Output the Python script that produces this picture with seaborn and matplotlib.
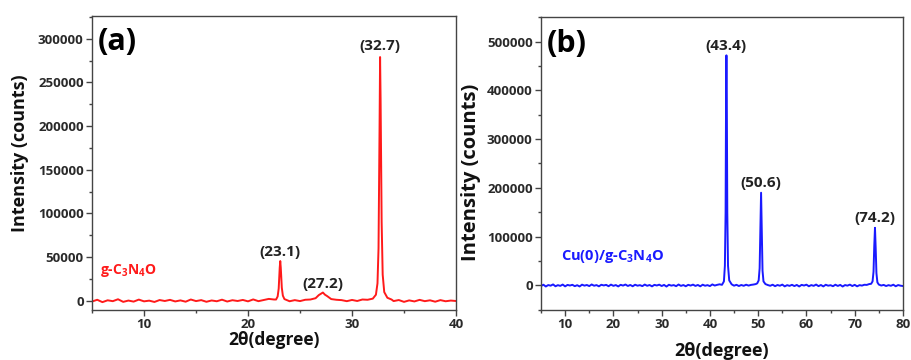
import matplotlib
matplotlib.use("Agg")
import matplotlib.pyplot as plt
from matplotlib.ticker import MultipleLocator, AutoMinorLocator
import seaborn as sns
import pandas as pd

# ---------------- data ----------------
two_theta_a = [5.0, 5.5, 6.0, 6.5, 7.0, 7.5, 8.0, 8.5, 9.0, 9.5, 10.0, 10.5, 11.0, 11.5,
               12.0, 12.5, 13.0, 13.5, 14.0, 14.5, 15.0, 15.5, 16.0, 16.5, 17.0, 17.5,
               18.0, 18.5, 19.0, 19.5, 20.0, 20.5, 21.0, 21.5, 22.0, 22.5,
               22.7, 22.85, 22.95, 23.05, 23.1, 23.15, 23.25, 23.35, 23.5,
               24.0, 24.5, 25.0, 25.5,
               26.0, 26.5, 26.8, 27.0, 27.2, 27.4, 27.6, 28.0, 28.5,
               29.0, 29.5, 30.0, 30.5, 31.0, 31.5,
               32.0, 32.3, 32.45, 32.55, 32.65, 32.7, 32.75, 32.85, 32.95, 33.1, 33.4, 33.8,
               34.0, 34.5, 35.0, 35.5, 36.0, 36.5, 37.0, 37.5, 38.0, 38.5, 39.0, 39.5, 40.0]
intensity_a = [-800, 1200, -1500, 600, -400, 1800, -1200, 300, -900, 1400, -600, 200, -1300, 900,
               -200, 1100, -700, 500, -1000, 1500, -300, 800, -1100, 400, -500, 1300,
               -800, 700, -200, 1000, -600, 1600, -400, 900, 2200, 1500,
               1500, 5000, 14000, 38000, 45500, 38000, 15000, 6000, 2000,
               -500, 800, -300, 1200,
               1500, 3000, 6500, 8000, 9500, 7000, 5500, 2000, 1200,
               800, -400, 1000, -200, 1500, 1200,
               2500, 7000, 20000, 60000, 200000, 279000, 230000, 90000, 30000, 10000, 3500, 1500,
               -300, 900, -1200, 500, -700, 1100, -400, 600, -1000, 800, -500, 300, -200]

two_theta_b = [5.0, 5.5, 6.0, 6.5, 7.0, 7.5, 8.0, 8.5, 9.0, 9.5, 10.0, 10.5, 11.0, 11.5,
               12.0, 12.5, 13.0, 13.5, 14.0, 14.5, 15.0, 15.5, 16.0, 16.5, 17.0, 17.5,
               18.0, 18.5, 19.0, 19.5, 20.0, 20.5, 21.0, 21.5, 22.0, 22.5, 23.0, 23.5,
               24.0, 24.5, 25.0, 25.5, 26.0, 26.5, 27.0, 27.5, 28.0, 28.5, 29.0, 29.5,
               30.0, 30.5, 31.0, 31.5, 32.0, 32.5, 33.0, 33.5, 34.0, 34.5, 35.0, 35.5,
               36.0, 36.5, 37.0, 37.5, 38.0, 38.5, 39.0, 39.5, 40.0, 40.5, 41.0, 41.5,
               42.0, 42.5,
               42.9, 43.1, 43.25, 43.35, 43.42, 43.5, 43.6, 43.75, 44.0,
               44.5, 45.0, 45.5, 46.0, 46.5, 47.0, 47.5, 48.0, 48.5, 49.0, 49.5,
               49.8, 50.1, 50.3, 50.45, 50.6, 50.75, 50.9, 51.1,
               51.5, 52.0, 52.5, 53.0, 53.5, 54.0, 54.5, 55.0, 55.5, 56.0, 56.5, 57.0,
               57.5, 58.0, 58.5, 59.0, 59.5, 60.0, 60.5, 61.0, 61.5, 62.0, 62.5, 63.0,
               63.5, 64.0, 64.5, 65.0, 65.5, 66.0, 66.5, 67.0, 67.5, 68.0, 68.5, 69.0,
               69.5, 70.0, 70.5, 71.0, 71.5, 72.0, 72.5, 73.0,
               73.4, 73.7, 73.9, 74.05, 74.2, 74.35, 74.5, 74.7, 75.0,
               75.5, 76.0, 76.5, 77.0, 77.5, 78.0, 78.5, 79.0, 79.5, 80.0]
intensity_b = [-1500, 1200, -2500, 500, -800, 1800, -2000, 300, -1200, 1500, -2200, 800, -500, 1000,
               -1800, 200, -2400, 1300, -700, 600, -1600, 1700, -900, 400, -2100, 1100,
               -300, 900, -1900, 1400, -1100, 500, -2300, 1000, -600, 1600, -1400, 700,
               -2000, 1200, -800, 300, -1700, 1500, -1000, 600, -2200, 900, -400, 1300,
               -1500, 800, -2600, 1100, -700, 400, -1800, 1600, -1200, 500, -2000, 1000,
               -600, 1400, -1300, 700, -2100, 1200, -900, 300, -1600, 1800, -500, 900,
               2000, 1000,
               8000, 40000, 150000, 400000, 472000, 380000, 150000, 40000, 10000,
               2000, -800, 1000, -1500, 600, -1000, 1200, -600, 800, 1500, 2500,
               4000, 10000, 35000, 110000, 190000, 110000, 30000, 8000,
               2500, 500, -1000, 1200, -1800, 600, -900, 1400, -2200, 300, -1200, 1000,
               -1600, 700, -2400, 900, -500, 1300, -2000, 400, -1100, 1500, -1700, 600,
               -2300, 1100, -800, 200, -1900, 1200, -1300, 800, -2500, 500, -700, 1400,
               -1500, 900, -2100, 300, -600, 1100, 800, 2500,
               3000, 8000, 28000, 80000, 118000, 75000, 25000, 6000, 1500,
               -500, 800, -1500, 300, -1000, 1200, -2000, 500, -800, -1500]

peaks_a = [23.1, 27.2, 32.7]
peak_label_y_a = [56000, 19000, 292000]
peaks_b = [43.4, 50.6, 74.2]
peak_label_y_b = [492000, 210000, 138000]

sample_a = r"g-C$_\mathbf{3}$N$_\mathbf{4}$O"
sample_b = r"Cu(0)/g-C$_\mathbf{3}$N$_\mathbf{4}$O"

assert len(two_theta_a) == len(intensity_a)
assert len(two_theta_b) == len(intensity_b)

# ---------------- style ----------------
sns.set_theme(style="ticks")
plt.rcParams["font.family"] = ["Open Sans", "DejaVu Sans"]
plt.rcParams["font.weight"] = "bold"
plt.rcParams["mathtext.fontset"] = "custom"
plt.rcParams["mathtext.rm"] = "Open Sans"
plt.rcParams["mathtext.bf"] = "Open Sans:bold"

fig = plt.figure(figsize=(9.12, 3.6), dpi=100)
ax_a = fig.add_axes([0.1009, 0.1389, 0.3991, 0.8167])
ax_b = fig.add_axes([0.5932, 0.1389, 0.3969, 0.8139])

df_a = pd.DataFrame({"two_theta": two_theta_a, "intensity": intensity_a})
df_b = pd.DataFrame({"two_theta": two_theta_b, "intensity": intensity_b})

sns.lineplot(data=df_a, x="two_theta", y="intensity", ax=ax_a, color="#ff1a1a",
             linewidth=1.4, sort=False, estimator=None)
sns.lineplot(data=df_b, x="two_theta", y="intensity", ax=ax_b, color="#1a1aff",
             linewidth=1.4, sort=False, estimator=None)

tick_color = "#2a2a2a"
for ax in (ax_a, ax_b):
    for s in ax.spines.values():
        s.set_color("#444444")
        s.set_linewidth(1.0)
    ax.tick_params(axis="both", which="major", direction="out", length=4, width=1,
                   color="#444444", labelsize=9.5, labelcolor=tick_color, pad=2)
    ax.tick_params(axis="both", which="minor", direction="out", length=2.5, width=1,
                   color="#444444")
    ax.xaxis.set_minor_locator(AutoMinorLocator(2))
    ax.yaxis.set_minor_locator(AutoMinorLocator(2))
    for lab in ax.get_xticklabels() + ax.get_yticklabels():
        lab.set_fontweight("bold")

# panel a
ax_a.set_xlim(5, 40)
ax_a.set_ylim(-10500, 326000)
ax_a.xaxis.set_major_locator(MultipleLocator(10))
ax_a.yaxis.set_major_locator(MultipleLocator(50000))
ax_a.set_xlabel("2θ(degree)", fontsize=12.5, fontweight="bold", color="#111111")
ax_a.set_ylabel("Intensity (counts)", fontsize=13, fontweight="bold", color="#111111")
ax_a.yaxis.set_label_coords(-0.173, 0.534)
ax_a.xaxis.set_label_coords(0.5, -0.072)
for p, yl in zip(peaks_a, peak_label_y_a):
    ax_a.text(p, yl, f"({p})", ha="center", va="center", fontsize=11,
              fontweight="bold", color="#222222")
ax_a.text(0.016, 0.91, "(a)", transform=ax_a.transAxes, fontsize=22,
          fontweight="bold", color="black", ha="left", va="center")
ax_a.text(0.022, 0.136, sample_a, transform=ax_a.transAxes, fontsize=10,
          fontweight="bold", color="#ff1a1a", ha="left", va="center")

# panel b
ax_b.set_xlim(5, 80)
ax_b.set_ylim(-50700, 550700)
ax_b.xaxis.set_major_locator(MultipleLocator(10))
ax_b.yaxis.set_major_locator(MultipleLocator(100000))
ax_b.set_xlabel("2θ(degree)", fontsize=13, fontweight="bold", color="#111111")
ax_b.set_ylabel("Intensity (counts)", fontsize=14.5, fontweight="bold", color="#111111")
ax_b.yaxis.set_label_coords(-0.166, 0.471)
ax_b.xaxis.set_label_coords(0.5, -0.109)
for p, yl in zip(peaks_b, peak_label_y_b):
    ax_b.text(p, yl, f"({p})", ha="center", va="center", fontsize=11,
              fontweight="bold", color="#222222")
ax_b.text(0.016, 0.908, "(b)", transform=ax_b.transAxes, fontsize=22,
          fontweight="bold", color="black", ha="left", va="center")
ax_b.text(0.055, 0.181, sample_b, transform=ax_b.transAxes, fontsize=10.5,
          fontweight="bold", color="#1a1aff", ha="left", va="center")

fig.savefig("out.png", dpi=100)
